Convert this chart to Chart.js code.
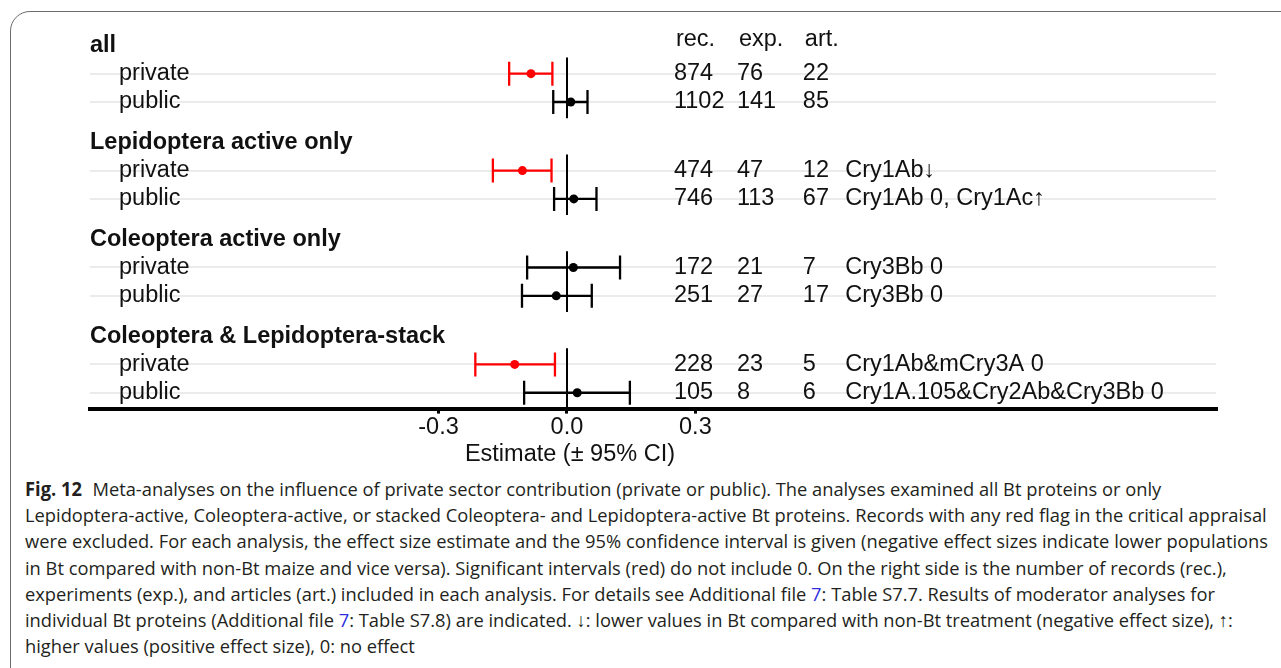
<!DOCTYPE html>
<html>
<head>
<meta charset="utf-8">
<script src="https://cdn.jsdelivr.net/npm/chart.js@4.4.1/dist/chart.umd.min.js"></script>
<style>
  html, body { margin: 0; padding: 0; background: #fff; }
  body { width: 1281px; height: 668px; overflow: hidden; position: relative; }
  #frame { position: absolute; left: 10px; top: 11px; width: 1330px; height: 720px;
           border: 1.5px solid #6b6b6b; border-radius: 20px; }
  #plot { position: absolute; left: 0; top: 0; }
  #caption { position: absolute; left: 25px; top: 476px; color: #231f20; white-space: nowrap;
             font-family: "Liberation Sans Narrow", "Open Sans", sans-serif; font-size: 19px;
             line-height: 26.2px; transform-origin: 0 0; }
  #caption b { font-weight: bold; margin-right: 6px; }
  .fn { color: #2f2fe0; }
</style>
</head>
<body>
<div id="frame"></div>
<canvas id="plot" width="1281" height="470"></canvas>
<div id="caption">
  <div id="cap1"><b>Fig. 12</b> Meta-analyses on the influence of private sector contribution (private or public). The analyses examined all Bt proteins or only</div>
  <div>Lepidoptera-active, Coleoptera-active, or stacked Coleoptera- and Lepidoptera-active Bt proteins. Records with any red flag in the critical appraisal</div>
  <div id="cap3">were excluded. For each analysis, the effect size estimate and the 95% confidence interval is given (negative effect sizes indicate lower populations</div>
  <div>in Bt compared with non-Bt maize and vice versa). Significant intervals (red) do not include 0. On the right side is the number of records (rec.),</div>
  <div>experiments (exp.), and articles (art.) included in each analysis. For details see Additional file <span class="fn">7</span>: Table S7.7. Results of moderator analyses for</div>
  <div>individual Bt proteins (Additional file <span class="fn">7</span>: Table S7.8) are indicated. ↓: lower values in Bt compared with non-Bt treatment (negative effect size), ↑:</div>
  <div>higher values (positive effect size), 0: no effect</div>
</div>
<script>
const groups = ["all", "Lepidoptera active only", "Coleoptera active only", "Coleoptera & Lepidoptera-stack"];
const sectors = ["private", "public"];
const estimate = [-0.084, 0.009, -0.104, 0.016, 0.015, -0.025, -0.122, 0.024];
const ciLower = [-0.135, -0.032, -0.173, -0.030, -0.093, -0.105, -0.214, -0.100];
const ciUpper = [-0.034, 0.048, -0.036, 0.069, 0.124, 0.058, -0.028, 0.147];
const records = [874, 1102, 474, 746, 172, 251, 228, 105];
const experiments = [76, 141, 47, 113, 21, 27, 23, 8];
const articles = [22, 85, 12, 67, 7, 17, 5, 6];
const proteins = ["", "", "Cry1Ab↓", "Cry1Ab 0, Cry1Ac↑", "Cry3Bb 0", "Cry3Bb 0",
                  "Cry1Ab&mCry3A 0", "Cry1A.105&Cry2Ab&Cry3Bb 0"];
const countHeaders = ["rec.", "exp.", "art."];
const xTicks = [-0.3, 0.0, 0.3];
const xTitle = "Estimate (± 95% CI)";

// layout
const FONT = '"Liberation Sans", Arial, sans-serif';
const FS = 23.5;
const GROUP_STEP = 3.42;
const COL_X = [0.250, 0.397, 0.551];
const PROTEIN_X = 0.650;
const rowY = i => Math.floor(i / 2) * GROUP_STEP + (i % 2);
const isSig = i => ciUpper[i] < 0 || ciLower[i] > 0;
const colorOf = i => isSig(i) ? "#ff0000" : "#000000";

const forestPlugin = {
    id: "forest",
    beforeDatasetsDraw(chart) {
        const { ctx, scales: { x, y } } = chart;
        ctx.save();
        // zero line per group
        ctx.strokeStyle = "#000";
        ctx.lineWidth = 2;
        groups.forEach((g, gi) => {
            const x0 = Math.round(x.getPixelForValue(0));
            ctx.beginPath();
            ctx.moveTo(x0, y.getPixelForValue(rowY(gi * 2) - 0.57));
            ctx.lineTo(x0, y.getPixelForValue(rowY(gi * 2 + 1) + 0.57));
            ctx.stroke();
        });
        // error bars
        ctx.lineWidth = 2.3;
        estimate.forEach((v, i) => {
            const py = y.getPixelForValue(rowY(i));
            const xl = x.getPixelForValue(ciLower[i]);
            const xu = x.getPixelForValue(ciUpper[i]);
            ctx.strokeStyle = colorOf(i);
            ctx.beginPath();
            ctx.moveTo(xl, py); ctx.lineTo(xu, py);
            ctx.moveTo(xl, py - 12); ctx.lineTo(xl, py + 12);
            ctx.moveTo(xu, py - 12); ctx.lineTo(xu, py + 12);
            ctx.stroke();
        });
        ctx.restore();
    },
    afterDraw(chart) {
        const { ctx, chartArea, scales: { x, y } } = chart;
        ctx.save();
        ctx.fillStyle = "#111";
        ctx.textBaseline = "middle";
        ctx.textAlign = "left";
        groups.forEach((g, gi) => {
            ctx.font = "bold " + FS + "px " + FONT;
            ctx.fillText(g, chartArea.left, y.getPixelForValue(rowY(gi * 2) - 1));
            ctx.font = FS + "px " + FONT;
            sectors.forEach((s, si) => {
                ctx.fillText(s, chartArea.left + 29, y.getPixelForValue(rowY(gi * 2 + si)));
            });
        });
        ctx.font = FS + "px " + FONT;
        countHeaders.forEach((h, c) => {
            ctx.fillText(h, x.getPixelForValue(COL_X[c]) + 2, y.getPixelForValue(-1.22));
        });
        estimate.forEach((v, i) => {
            const py = y.getPixelForValue(rowY(i));
            [records[i], experiments[i], articles[i]].forEach((n, c) => {
                ctx.fillText(String(n), x.getPixelForValue(COL_X[c]), py);
            });
            ctx.fillText(proteins[i], x.getPixelForValue(PROTEIN_X), py);
        });
        // axis title centred under zero, as in the figure
        ctx.textAlign = "center";
        ctx.fillText(xTitle, x.getPixelForValue(0) + 3, chartArea.bottom + 46);
        ctx.restore();
    }
};

new Chart("plot", {
    type: "scatter",
    data: {
        datasets: [{
            data: estimate.map((v, i) => ({ x: v, y: rowY(i) })),
            pointRadius: 4.5,
            pointBorderWidth: 0,
            pointBackgroundColor: estimate.map((v, i) => colorOf(i))
        }]
    },
    options: {
        responsive: false,
        animation: false,
        layout: { padding: { left: 90, right: 65, top: 20, bottom: 0 } },
        plugins: { legend: { display: false }, tooltip: { enabled: false } },
        scales: {
            x: {
                type: "linear",
                min: -1.114,
                max: 1.516,
                afterBuildTicks: s => { s.ticks = xTicks.map(v => ({ value: v })); },
                ticks: {
                    color: "#111", font: { size: FS, family: FONT }, padding: 0,
                    maxRotation: 0, autoSkip: false, callback: v => v.toFixed(1)
                },
                grid: { display: true, drawOnChartArea: false, drawTicks: true, tickLength: 5, color: "#000", lineWidth: 3 },
                border: { display: true, color: "#000", width: 4 },
                title: { display: true, text: xTitle, color: "rgba(0,0,0,0)",
                         font: { size: FS, family: FONT }, padding: { top: 0, bottom: 0 } }
            },
            y: {
                type: "linear",
                reverse: true,
                min: -1.893,
                max: 11.82,
                afterBuildTicks: s => { s.ticks = estimate.map((v, i) => ({ value: rowY(i) })); },
                ticks: { display: false },
                grid: { color: "#ebebeb", lineWidth: 2, drawTicks: false },
                border: { display: false }
            }
        }
    },
    plugins: [forestPlugin]
});

// fit caption width to the reference line length
const cap = document.getElementById("caption");
const range = document.createRange();
range.selectNodeContents(document.getElementById("cap3"));
const textW = range.getBoundingClientRect().width;
cap.style.transform = "scaleX(" + (1243 / textW) + ")";
</script>
</body>
</html>
